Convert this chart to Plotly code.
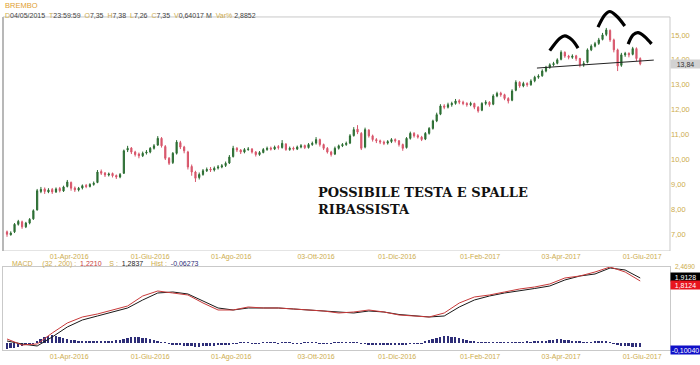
import numpy as np
import pandas as pd
import plotly.graph_objects as go

# ---------------- data ----------------
START = "2016-02-16"
dates = pd.bdate_range(START, periods=169, freq="2B").strftime("%Y-%m-%d").tolist()

open_ = [7.10, 6.98, 7.10, 7.40, 7.50, 7.30, 7.45, 7.62, 7.98, 8.72,
         8.82, 8.70, 8.80, 8.70, 8.84, 8.74, 8.92, 9.08, 8.86, 8.78,
         8.86, 8.96, 8.92, 9.00, 9.08, 9.52, 9.46, 9.38, 9.44, 9.36,
         9.30, 9.45, 10.38, 10.46, 10.30, 10.22, 10.15, 10.26, 10.30, 10.45,
         10.58, 10.85, 10.52, 10.05, 9.88, 10.25, 10.68, 10.50, 10.30, 9.72,
         9.50, 9.28, 9.40, 9.55, 9.62, 9.58, 9.66, 9.70, 9.76, 9.86,
         10.12, 10.45, 10.38, 10.30, 10.40, 10.42, 10.30, 10.20, 10.28, 10.40,
         10.46, 10.42, 10.52, 10.48, 10.62, 10.40, 10.46, 10.42, 10.50, 10.56,
         10.48, 10.60, 10.66, 10.80, 10.60, 10.45, 10.30, 10.22, 10.45, 10.55,
         10.60, 10.66, 10.96, 11.22, 11.05, 10.50, 11.18, 10.95, 10.80, 10.75,
         10.70, 10.66, 10.72, 10.80, 10.75, 10.60, 10.48, 10.85, 11.05, 10.96,
         10.90, 10.82, 11.05, 11.25, 11.55, 11.82, 12.15, 12.10, 12.20, 12.25,
         12.36, 12.30, 12.25, 12.20, 12.25, 12.10, 11.98, 12.25, 12.30, 12.22,
         12.55, 12.66, 12.60, 12.45, 12.38, 12.78, 13.10, 12.95, 13.05, 13.00,
         13.16, 13.30, 13.36, 13.55, 13.70, 13.80, 13.86, 14.02, 14.30, 14.15,
         14.10, 14.16, 14.05, 13.80, 13.90, 14.40, 14.55, 14.66, 14.82, 15.02,
         15.18, 14.80, 14.40, 13.78, 14.20, 14.26, 14.22, 14.45, 14.05]

close = [7.00, 7.05, 7.40, 7.52, 7.30, 7.45, 7.60, 7.95, 8.75, 8.80,
         8.72, 8.78, 8.70, 8.82, 8.75, 8.90, 9.10, 8.85, 8.78, 8.85,
         8.95, 8.92, 9.00, 9.05, 9.50, 9.45, 9.38, 9.42, 9.35, 9.30,
         9.40, 10.35, 10.45, 10.30, 10.20, 10.15, 10.25, 10.30, 10.45, 10.55,
         10.85, 10.55, 10.05, 9.85, 10.25, 10.70, 10.50, 10.35, 9.70, 9.50,
         9.25, 9.40, 9.55, 9.60, 9.58, 9.65, 9.70, 9.75, 9.85, 10.10,
         10.45, 10.38, 10.30, 10.40, 10.42, 10.30, 10.20, 10.28, 10.40, 10.45,
         10.42, 10.50, 10.48, 10.65, 10.40, 10.45, 10.42, 10.50, 10.55, 10.48,
         10.60, 10.65, 10.80, 10.60, 10.45, 10.30, 10.20, 10.45, 10.55, 10.60,
         10.65, 10.95, 11.20, 11.10, 10.45, 11.20, 10.95, 10.80, 10.75, 10.70,
         10.65, 10.72, 10.80, 10.75, 10.60, 10.45, 10.85, 11.05, 10.95, 10.90,
         10.80, 11.05, 11.25, 11.55, 11.80, 12.15, 12.10, 12.20, 12.25, 12.35,
         12.30, 12.25, 12.20, 12.25, 12.10, 11.95, 12.25, 12.30, 12.20, 12.55,
         12.65, 12.60, 12.45, 12.35, 12.75, 13.10, 12.95, 13.05, 13.00, 13.15,
         13.30, 13.35, 13.55, 13.70, 13.80, 13.85, 14.00, 14.30, 14.15, 14.10,
         14.15, 14.05, 13.80, 13.85, 14.40, 14.55, 14.65, 14.80, 15.00, 15.20,
         14.80, 14.40, 13.75, 14.20, 14.25, 14.20, 14.45, 14.05, 13.84]

high = [7.15, 7.12, 7.45, 7.58, 7.55, 7.50, 7.65, 8.00, 8.82, 8.90,
        8.88, 8.85, 8.86, 8.88, 8.90, 8.95, 9.18, 9.12, 8.92, 8.90,
        9.00, 9.02, 9.05, 9.12, 9.58, 9.60, 9.50, 9.48, 9.48, 9.40,
        9.46, 10.40, 10.55, 10.50, 10.35, 10.28, 10.32, 10.38, 10.50, 10.62,
        10.94, 10.90, 10.58, 10.10, 10.30, 10.78, 10.75, 10.55, 10.35, 9.80,
        9.55, 9.48, 9.62, 9.68, 9.70, 9.72, 9.78, 9.82, 9.92, 10.18,
        10.55, 10.50, 10.42, 10.46, 10.50, 10.46, 10.34, 10.34, 10.46, 10.52,
        10.52, 10.56, 10.58, 10.78, 10.66, 10.52, 10.52, 10.56, 10.62, 10.60,
        10.66, 10.72, 10.90, 10.84, 10.64, 10.50, 10.35, 10.52, 10.60, 10.66,
        10.72, 11.02, 11.30, 11.38, 11.10, 11.28, 11.22, 11.00, 10.86, 10.80,
        10.76, 10.78, 10.86, 10.85, 10.78, 10.64, 10.90, 11.12, 11.10, 11.02,
        10.95, 11.10, 11.30, 11.60, 11.88, 12.22, 12.22, 12.28, 12.32, 12.43,
        12.42, 12.36, 12.30, 12.32, 12.28, 12.14, 12.30, 12.38, 12.34, 12.62,
        12.72, 12.72, 12.64, 12.50, 12.82, 13.18, 13.14, 13.12, 13.10, 13.22,
        13.36, 13.42, 13.62, 13.76, 13.86, 13.92, 14.06, 14.38, 14.34, 14.20,
        14.22, 14.20, 14.08, 13.95, 14.46, 14.62, 14.72, 14.88, 15.08, 15.28,
        15.22, 14.85, 14.45, 14.28, 14.32, 14.30, 14.52, 14.50, 14.10]

low = [6.90, 6.95, 7.05, 7.35, 7.22, 7.25, 7.40, 7.58, 7.95, 8.65,
       8.62, 8.65, 8.62, 8.66, 8.68, 8.70, 8.88, 8.75, 8.70, 8.72,
       8.80, 8.85, 8.88, 8.95, 9.05, 9.38, 9.30, 9.32, 9.28, 9.22,
       9.25, 9.42, 10.30, 10.22, 10.12, 10.05, 10.10, 10.20, 10.25, 10.40,
       10.55, 10.48, 9.98, 9.78, 9.82, 10.20, 10.42, 10.25, 9.60, 9.35,
       9.10, 9.20, 9.35, 9.50, 9.50, 9.52, 9.60, 9.65, 9.70, 9.82,
       10.08, 10.30, 10.22, 10.25, 10.35, 10.24, 10.12, 10.15, 10.25, 10.35,
       10.36, 10.38, 10.40, 10.44, 10.35, 10.35, 10.36, 10.38, 10.45, 10.42,
       10.44, 10.55, 10.60, 10.52, 10.38, 10.24, 10.12, 10.18, 10.40, 10.50,
       10.55, 10.62, 10.92, 11.02, 10.38, 10.45, 10.88, 10.72, 10.66, 10.62,
       10.58, 10.60, 10.66, 10.68, 10.52, 10.35, 10.44, 10.80, 10.88, 10.84,
       10.74, 10.78, 11.00, 11.20, 11.50, 11.78, 12.02, 12.05, 12.12, 12.20,
       12.22, 12.18, 12.12, 12.14, 12.02, 11.88, 11.94, 12.18, 12.12, 12.18,
       12.50, 12.52, 12.38, 12.25, 12.34, 12.74, 12.88, 12.90, 12.92, 12.96,
       13.10, 13.24, 13.32, 13.50, 13.64, 13.74, 13.82, 13.98, 14.08, 14.02,
       14.04, 13.96, 13.70, 13.72, 13.86, 14.35, 14.50, 14.60, 14.78, 14.95,
       14.72, 14.30, 13.55, 13.72, 14.12, 14.10, 14.18, 13.95, 13.78]

# MACD lines sampled every 4th candle
macd_step = 4
macd_line = [0.12, -0.06, -0.03, 0.30, 0.60, 0.78, 0.87, 0.99, 1.11, 1.41,
             1.56, 1.50, 1.44, 1.20, 0.99, 0.99, 1.08, 1.05, 1.05, 1.02,
             0.99, 0.96, 0.90, 0.93, 0.99, 0.93, 0.84, 0.81, 0.78, 0.90,
             1.20, 1.38, 1.44, 1.53, 1.62, 1.68, 1.77, 1.95, 2.01, 2.13,
             2.28, 2.13, 1.86]
signal_line = [0.06, -0.03, -0.09, 0.18, 0.48, 0.69, 0.81, 0.93, 1.05, 1.29,
               1.50, 1.53, 1.47, 1.26, 1.05, 0.99, 1.05, 1.05, 1.05, 1.02,
               0.99, 0.96, 0.915, 0.90, 0.96, 0.93, 0.855, 0.81, 0.78, 0.81,
               1.08, 1.29, 1.41, 1.50, 1.56, 1.635, 1.71, 1.89, 2.01, 2.07,
               2.25, 2.19, 1.95]

hist = [-0.18, -0.16, -0.14, -0.11, -0.09, -0.07, -0.05, -0.03, 0.06, 0.12,
        0.18, 0.22, 0.23, 0.21, 0.18, 0.15, 0.11, 0.09, 0.08, 0.07,
        0.07, 0.06, 0.06, 0.05, 0.05, 0.06, 0.06, 0.07, 0.07, 0.08,
        0.10, 0.12, 0.15, 0.18, 0.19, 0.18, 0.16, 0.14, 0.12, 0.09,
        0.06, 0.03, 0.01, -0.02, -0.04, -0.06, -0.07, -0.08, -0.09, -0.10,
        -0.11, -0.11, -0.10, -0.10, -0.09, -0.08, -0.07, -0.06, -0.05, -0.04,
        -0.02, -0.01, 0.01, 0.02, 0.01, -0.01, -0.02, -0.01, 0.01, 0.02,
        0.01, 0.01, -0.01, 0.01, 0.02, 0.01, -0.01, -0.02, -0.01, 0.01,
        0.01, 0.02, 0.01, -0.01, -0.02, -0.02, -0.01, 0.01, 0.01, 0.02,
        0.01, 0.01, 0.02, 0.01, -0.02, -0.03, -0.04, -0.05, -0.05, -0.04,
        -0.04, -0.05, -0.05, -0.04, -0.04, -0.05, -0.04, -0.03, -0.03, -0.03,
        -0.02, 0.04, 0.08, 0.12, 0.16, 0.19, 0.20, 0.20, 0.19, 0.17,
        0.15, 0.12, 0.09, 0.06, 0.04, 0.02, 0.02, 0.01, 0.02, 0.02,
        0.02, 0.03, 0.02, 0.03, 0.03, 0.02, 0.03, 0.03, 0.04, 0.03,
        0.05, 0.05, 0.06, 0.07, 0.09, 0.10, 0.11, 0.11, 0.10, 0.08,
        0.07, 0.06, 0.04, 0.03, 0.02, 0.03, 0.05, 0.06, 0.07, 0.06,
        0.02, -0.02, -0.05, -0.08, -0.09, -0.10, -0.11, -0.12, -0.12]

# tick labels (Italian month abbreviations)
tick_dates = ["2016-04-01", "2016-06-01", "2016-08-01", "2016-10-03",
              "2016-12-01", "2017-02-01", "2017-04-03", "2017-06-01"]
tick_text = ["01-Apr-2016", "01-Giu-2016", "01-Ago-2016", "03-Ott-2016",
             "01-Dic-2016", "01-Feb-2017", "03-Apr-2017", "01-Giu-2017"]
price_ticks = [7, 8, 9, 10, 11, 12, 13, 14, 15]

# hand-drawn analyst marks (candle index, price)
neck_x = [140.6, 171.6]
neck_y = [13.67, 13.99]
arc_left_x = [144.0, 146.7, 148.0, 149.9, 151.5]
arc_left_y = [14.37, 14.87, 14.96, 14.80, 14.47]
arc_head_x = [156.8, 158.6, 159.9, 161.7, 163.9]
arc_head_y = [15.31, 15.80, 15.94, 15.76, 15.36]
arc_right_x = [164.8, 166.1, 167.4, 169.2, 171.0]
arc_right_y = [14.63, 15.00, 15.09, 14.93, 14.64]

# ---------------- styling ----------------
GOLD = "#cdac4e"
GREEN = "#2c6e33"
RED = "#d8566b"
NAVY = "#2e2e78"
FRAME = "#c9c9c9"
FONT = "Liberation Sans, Arial, sans-serif"

xi = np.arange(len(dates))
xm = np.arange(0, len(dates), macd_step)
tickvals = np.busday_count(dates[0], tick_dates) / 2.0

fig = go.Figure()
fig.add_trace(go.Candlestick(
    x=xi, open=open_, high=high, low=low, close=close,
    increasing=dict(line=dict(color=GREEN, width=1), fillcolor=GREEN),
    decreasing=dict(line=dict(color=RED, width=1), fillcolor=RED),
    whiskerwidth=0, showlegend=False, hoverinfo="skip", xaxis="x", yaxis="y"))

fig.add_trace(go.Scatter(x=neck_x, y=neck_y, mode="lines",
                         line=dict(color="#222222", width=1),
                         showlegend=False, hoverinfo="skip"))
for ax, ay in [(arc_left_x, arc_left_y), (arc_head_x, arc_head_y),
               (arc_right_x, arc_right_y)]:
    fig.add_trace(go.Scatter(x=ax, y=ay, mode="lines",
                             line=dict(color="#000000", width=3.2, shape="spline"),
                             showlegend=False, hoverinfo="skip"))

fig.add_trace(go.Bar(x=xi, y=hist, width=0.5, marker=dict(color=NAVY, line=dict(width=0)),
                     showlegend=False, hoverinfo="skip", xaxis="x2", yaxis="y2"))
fig.add_trace(go.Scatter(x=xm, y=signal_line, mode="lines", line=dict(color="#1a1a1a", width=1),
                         showlegend=False, hoverinfo="skip", xaxis="x2", yaxis="y2"))
fig.add_trace(go.Scatter(x=xm, y=macd_line, mode="lines", line=dict(color="#c83a3a", width=1),
                         showlegend=False, hoverinfo="skip", xaxis="x2", yaxis="y2"))

xrange = [-1.06, 175.9]
main_range = [6.33, 16.2]
frame_top = 15.72

common_x = dict(range=xrange, tickvals=tickvals, ticktext=tick_text,
                tickfont=dict(size=7, color=GOLD, family=FONT), showgrid=False,
                zeroline=False, ticks="", rangeslider=dict(visible=False))

fig.update_layout(
    width=700, height=365,
    margin=dict(l=3, r=30, t=0, b=0),
    paper_bgcolor="white", plot_bgcolor="white",
    separators=",.",
    font=dict(family=FONT),
    showlegend=False,
    boxgap=0.55,
    xaxis=dict(domain=[0, 1], anchor="y", showline=False, **common_x),
    yaxis=dict(domain=[0.3123, 0.9863], anchor="x", side="right", range=main_range,
               tickvals=price_ticks, tickformat=".2f",
               tickfont=dict(size=7.5, color=GOLD, family=FONT),
               showgrid=False, zeroline=False, ticks=""),
    xaxis2=dict(domain=[0, 1], anchor="y2", matches="x", showline=True, mirror=True,
                linecolor=FRAME, linewidth=1, **common_x),
    yaxis2=dict(domain=[0.0411, 0.2685], anchor="x2", side="right", range=[-0.21, 2.28],
                showticklabels=False, showgrid=False, zeroline=False, ticks="",
                showline=True, mirror=True, linecolor=FRAME, linewidth=1),
    bargap=0,
)

# main panel frame
fig.add_shape(type="rect", xref="x domain", yref="y", x0=0, x1=1,
              y0=main_range[0], y1=frame_top, line=dict(color=FRAME, width=1), layer="below")
fig.add_shape(type="line", xref="x domain", yref="y", x0=0, x1=0,
              y0=main_range[0], y1=frame_top, line=dict(color="#b8b8b8", width=2), layer="below")

def span(txt, color):
    return f"<span style='color:{color}'>{txt}</span>"

NB = "\u00a0"
header2 = (span("D", GOLD) + span("04/05/2015", "#444") + NB * 2 +
           span("T", GOLD) + span("23:59:59", "#444") + NB * 2 +
           span("O", GOLD) + span("7,35", "#444") + NB * 2 +
           span("H", GOLD) + span("7,38", "#444") + NB * 2 +
           span("L", GOLD) + span("7,26", "#444") + NB * 2 +
           span("C", GOLD) + span("7,35", "#444") + NB * 2 +
           span("V", GOLD) + span("0,64017 M", "#444") + NB * 2 +
           span("Var%", GOLD) + NB + span("2,8852", "#444"))
macd_hdr = (span("MACD", GOLD) + NB * 5 + span("(32 , 200) :", GOLD) + NB * 2 +
            span("1,2210", "#c83a3a") + NB * 4 + span("S :", GOLD) + NB * 2 +
            span("1,2837", "#222") + NB * 4 + span("Hist :", GOLD) + NB * 2 +
            span("-0,06273", NAVY))

annos = [
    dict(text="BREMBO", x=0, y=0.986, xref="paper", yref="paper", xanchor="left",
         yanchor="middle", showarrow=False, font=dict(size=7.5, color="#e0a030")),
    dict(text=header2, x=0, y=0.958, xref="paper", yref="paper", xanchor="left",
         yanchor="middle", showarrow=False, font=dict(size=7)),
    dict(text=macd_hdr, x=0.0105, y=0.2767, xref="paper", yref="paper", xanchor="left",
         yanchor="middle", showarrow=False, font=dict(size=7)),
    dict(text="<b>POSSIBILE TESTA E SPALLE<br>RIBASSISTA</b>", x=0.469, y=0.448,
         xref="paper", yref="paper", xanchor="left", yanchor="middle", align="left",
         showarrow=False, font=dict(size=13, color="#111111", family="DejaVu Serif, serif")),
    dict(text="13,84", x=1.0, y=close[-1], xref="paper", yref="y", xanchor="left",
         yanchor="middle", showarrow=False, bgcolor="#d2d2d2", width=29, height=8,
         borderpad=0, font=dict(size=7, color="#333333")),
    dict(text="2,4690", x=1.0, y=2.28, xref="paper", yref="y2", xanchor="left",
         yanchor="middle", showarrow=False, font=dict(size=6.5, color=GOLD), xshift=3),
    dict(text="1,9128", x=1.0, y=1.98, xref="paper", yref="y2", xanchor="left",
         yanchor="middle", showarrow=False, bgcolor="#000000", width=29, height=8,
         borderpad=0, font=dict(size=7, color="white")),
    dict(text="1,8124", x=1.0, y=1.74, xref="paper", yref="y2", xanchor="left",
         yanchor="middle", showarrow=False, bgcolor="#e8141e", width=29, height=8,
         borderpad=0, font=dict(size=7, color="white")),
    dict(text="-0,10040", x=1.0, y=-0.20, xref="paper", yref="y2", xanchor="left",
         yanchor="middle", showarrow=False, bgcolor="#1010c8", width=29, height=8,
         borderpad=0, font=dict(size=7, color="white")),
]
fig.update_layout(annotations=annos)

fig.write_html("out.html", config={"displayModeBar": False},
               post_script="document.body.style.margin='0';document.body.style.padding='0';")
